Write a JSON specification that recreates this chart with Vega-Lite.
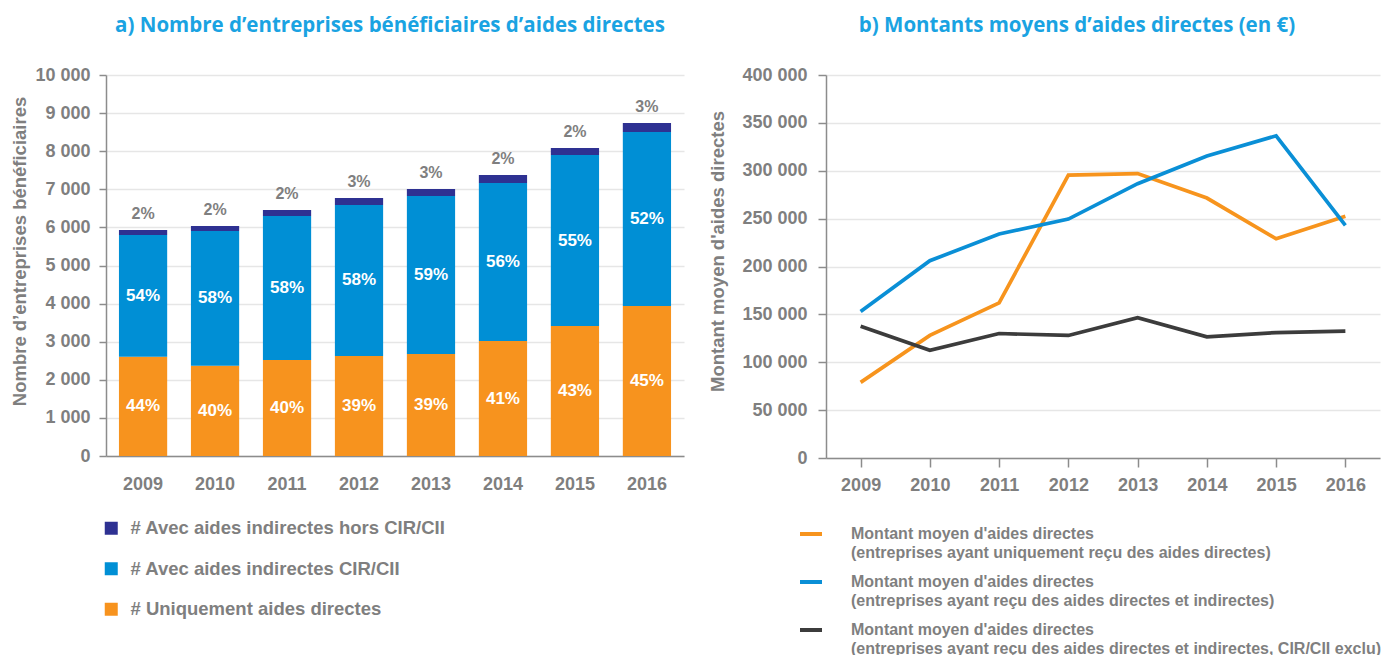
{
  "$schema": "https://vega.github.io/schema/vega-lite/v6.json",
  "padding": {"left": 10, "top": 15, "right": 0, "bottom": 0},
  "background": "white",
  "config": {
    "locale": {"number": {"decimal": ",", "thousands": " ", "grouping": [3], "currency": ["", " €"]}},
    "view": {"stroke": null},
    "font": "Liberation Sans",
    "style": {"guide-label": {"lineHeight": 19}},
    "axis": {
      "labelFont": "Liberation Sans", "labelFontSize": 18, "labelFontWeight": "bold", "labelColor": "#7f7f7f", "labelOverlap": false,
      "titleFont": "Liberation Sans", "titleFontSize": 18.5, "titleFontWeight": "bold", "titleColor": "#7f7f7f",
      "domainColor": "#8c8c8c", "domainWidth": 1.5, "tickColor": "#8c8c8c", "tickWidth": 1.5,
      "gridColor": "#e6e6e6", "gridWidth": 1.5
    },
    "legend": {"labelFont": "Liberation Sans", "labelFontWeight": "bold", "labelColor": "#7f7f7f"},
    "title": {"font": "Open Sans", "fontSize": 20.5, "fontWeight": "bold", "color": "#1aa3e2", "anchor": "middle", "frame": "group", "offset": 30}
  },
  "datasets": {
    "entreprises": [
      {"annee": "2009", "aides_indirectes": "Aucune", "serie": "# Uniquement aides directes", "entreprises": 2606, "part": "44%"},
      {"annee": "2009", "aides_indirectes": "CIR/CII", "serie": "# Avec aides indirectes CIR/CII", "entreprises": 3194, "part": "54%"},
      {"annee": "2009", "aides_indirectes": "Hors CIR/CII", "serie": "# Avec aides indirectes hors CIR/CII", "entreprises": 132, "part": "2%"},
      {"annee": "2010", "aides_indirectes": "Aucune", "serie": "# Uniquement aides directes", "entreprises": 2370, "part": "40%"},
      {"annee": "2010", "aides_indirectes": "CIR/CII", "serie": "# Avec aides indirectes CIR/CII", "entreprises": 3536, "part": "58%"},
      {"annee": "2010", "aides_indirectes": "Hors CIR/CII", "serie": "# Avec aides indirectes hors CIR/CII", "entreprises": 131, "part": "2%"},
      {"annee": "2011", "aides_indirectes": "Aucune", "serie": "# Uniquement aides directes", "entreprises": 2520, "part": "40%"},
      {"annee": "2011", "aides_indirectes": "CIR/CII", "serie": "# Avec aides indirectes CIR/CII", "entreprises": 3779, "part": "58%"},
      {"annee": "2011", "aides_indirectes": "Hors CIR/CII", "serie": "# Avec aides indirectes hors CIR/CII", "entreprises": 158, "part": "2%"},
      {"annee": "2012", "aides_indirectes": "Aucune", "serie": "# Uniquement aides directes", "entreprises": 2625, "part": "39%"},
      {"annee": "2012", "aides_indirectes": "CIR/CII", "serie": "# Avec aides indirectes CIR/CII", "entreprises": 3963, "part": "58%"},
      {"annee": "2012", "aides_indirectes": "Hors CIR/CII", "serie": "# Avec aides indirectes hors CIR/CII", "entreprises": 184, "part": "3%"},
      {"annee": "2013", "aides_indirectes": "Aucune", "serie": "# Uniquement aides directes", "entreprises": 2677, "part": "39%"},
      {"annee": "2013", "aides_indirectes": "CIR/CII", "serie": "# Avec aides indirectes CIR/CII", "entreprises": 4147, "part": "59%"},
      {"annee": "2013", "aides_indirectes": "Hors CIR/CII", "serie": "# Avec aides indirectes hors CIR/CII", "entreprises": 184, "part": "3%"},
      {"annee": "2014", "aides_indirectes": "Aucune", "serie": "# Uniquement aides directes", "entreprises": 3018, "part": "41%"},
      {"annee": "2014", "aides_indirectes": "CIR/CII", "serie": "# Avec aides indirectes CIR/CII", "entreprises": 4147, "part": "56%"},
      {"annee": "2014", "aides_indirectes": "Hors CIR/CII", "serie": "# Avec aides indirectes hors CIR/CII", "entreprises": 210, "part": "2%"},
      {"annee": "2015", "aides_indirectes": "Aucune", "serie": "# Uniquement aides directes", "entreprises": 3412, "part": "43%"},
      {"annee": "2015", "aides_indirectes": "CIR/CII", "serie": "# Avec aides indirectes CIR/CII", "entreprises": 4488, "part": "55%"},
      {"annee": "2015", "aides_indirectes": "Hors CIR/CII", "serie": "# Avec aides indirectes hors CIR/CII", "entreprises": 184, "part": "2%"},
      {"annee": "2016", "aides_indirectes": "Aucune", "serie": "# Uniquement aides directes", "entreprises": 3937, "part": "45%"},
      {"annee": "2016", "aides_indirectes": "CIR/CII", "serie": "# Avec aides indirectes CIR/CII", "entreprises": 4567, "part": "52%"},
      {"annee": "2016", "aides_indirectes": "Hors CIR/CII", "serie": "# Avec aides indirectes hors CIR/CII", "entreprises": 236, "part": "3%"}
    ],
    "montants": [
      {"annee": "2009", "serie": "Montant moyen d'aides directes\n(entreprises ayant uniquement reçu des aides directes)", "montant": 79000},
      {"annee": "2010", "serie": "Montant moyen d'aides directes\n(entreprises ayant uniquement reçu des aides directes)", "montant": 128000},
      {"annee": "2011", "serie": "Montant moyen d'aides directes\n(entreprises ayant uniquement reçu des aides directes)", "montant": 162000},
      {"annee": "2012", "serie": "Montant moyen d'aides directes\n(entreprises ayant uniquement reçu des aides directes)", "montant": 295500},
      {"annee": "2013", "serie": "Montant moyen d'aides directes\n(entreprises ayant uniquement reçu des aides directes)", "montant": 297000},
      {"annee": "2014", "serie": "Montant moyen d'aides directes\n(entreprises ayant uniquement reçu des aides directes)", "montant": 271500},
      {"annee": "2015", "serie": "Montant moyen d'aides directes\n(entreprises ayant uniquement reçu des aides directes)", "montant": 229000},
      {"annee": "2016", "serie": "Montant moyen d'aides directes\n(entreprises ayant uniquement reçu des aides directes)", "montant": 252500},
      {"annee": "2009", "serie": "Montant moyen d'aides directes\n(entreprises ayant reçu des aides directes et indirectes)", "montant": 153000},
      {"annee": "2010", "serie": "Montant moyen d'aides directes\n(entreprises ayant reçu des aides directes et indirectes)", "montant": 206000},
      {"annee": "2011", "serie": "Montant moyen d'aides directes\n(entreprises ayant reçu des aides directes et indirectes)", "montant": 234000},
      {"annee": "2012", "serie": "Montant moyen d'aides directes\n(entreprises ayant reçu des aides directes et indirectes)", "montant": 249500},
      {"annee": "2013", "serie": "Montant moyen d'aides directes\n(entreprises ayant reçu des aides directes et indirectes)", "montant": 286500},
      {"annee": "2014", "serie": "Montant moyen d'aides directes\n(entreprises ayant reçu des aides directes et indirectes)", "montant": 315500},
      {"annee": "2015", "serie": "Montant moyen d'aides directes\n(entreprises ayant reçu des aides directes et indirectes)", "montant": 336500},
      {"annee": "2016", "serie": "Montant moyen d'aides directes\n(entreprises ayant reçu des aides directes et indirectes)", "montant": 243000},
      {"annee": "2009", "serie": "Montant moyen d'aides directes\n(entreprises ayant reçu des aides directes et indirectes, CIR/CII exclu)", "montant": 137500},
      {"annee": "2010", "serie": "Montant moyen d'aides directes\n(entreprises ayant reçu des aides directes et indirectes, CIR/CII exclu)", "montant": 112500},
      {"annee": "2011", "serie": "Montant moyen d'aides directes\n(entreprises ayant reçu des aides directes et indirectes, CIR/CII exclu)", "montant": 130000},
      {"annee": "2012", "serie": "Montant moyen d'aides directes\n(entreprises ayant reçu des aides directes et indirectes, CIR/CII exclu)", "montant": 128000},
      {"annee": "2013", "serie": "Montant moyen d'aides directes\n(entreprises ayant reçu des aides directes et indirectes, CIR/CII exclu)", "montant": 146500},
      {"annee": "2014", "serie": "Montant moyen d'aides directes\n(entreprises ayant reçu des aides directes et indirectes, CIR/CII exclu)", "montant": 126500},
      {"annee": "2015", "serie": "Montant moyen d'aides directes\n(entreprises ayant reçu des aides directes et indirectes, CIR/CII exclu)", "montant": 131000},
      {"annee": "2016", "serie": "Montant moyen d'aides directes\n(entreprises ayant reçu des aides directes et indirectes, CIR/CII exclu)", "montant": 132500}
    ]
  },
  "spacing": 24,
  "resolve": {"scale": {"color": "independent", "x": "independent", "y": "independent"}, "legend": {"color": "independent"}},
  "hconcat": [
    {
      "width": 578,
      "height": 381,
      "title": {"text": "a) Nombre d’entreprises bénéficiaires d’aides directes", "dx": -5},
      "data": {"name": "entreprises"},
      "encoding": {
        "x": {"field": "annee", "type": "ordinal", "scale": {"paddingInner": 0.33, "paddingOuter": 0.18},
              "axis": {"title": null, "labelAngle": 0, "ticks": false, "tickSize": 0, "labelPadding": 19}},
        "y": {"field": "entreprises", "type": "quantitative", "stack": "zero",
              "scale": {"domain": [0, 10000], "nice": false},
              "axis": {"title": "Nombre d’entreprises bénéficiaires", "values": [0, 1000, 2000, 3000, 4000, 5000, 6000, 7000, 8000, 9000, 10000],
                       "format": ",d", "tickSize": 7, "labelPadding": 9, "titlePadding": 5, "titleY": 176, "grid": true, "labelOverlap": false}},
        "order": {"field": "aides_indirectes", "sort": "ascending"},
        "detail": {"field": "serie"}
      },
      "layer": [
        {
          "mark": {"type": "bar"},
          "encoding": {
            "color": {"field": "serie", "type": "nominal",
              "scale": {"domain": ["# Avec aides indirectes hors CIR/CII", "# Avec aides indirectes CIR/CII", "# Uniquement aides directes"],
                        "range": ["#2e3192", "#008fd5", "#f7931e"]},
              "legend": {"title": null, "orient": "none", "legendX": -4, "legendY": 444, "direction": "vertical",
                         "symbolType": "square", "symbolSize": 169, "symbolStrokeWidth": 0, "symbolOpacity": 1,
                         "labelFontSize": 18.5, "labelOffset": 10, "rowPadding": 21.5, "labelLimit": 0}}
          }
        },
        {
          "mark": {"type": "text", "color": "white", "fontSize": 17, "fontWeight": "bold", "font": "Liberation Sans", "baseline": "middle"},
          "encoding": {
            "y": {"field": "entreprises", "type": "quantitative", "stack": "zero", "bandPosition": 0.5,
                  "scale": {"domain": [0, 10000], "nice": false},
                  "axis": {"title": "Nombre d’entreprises bénéficiaires", "values": [0, 1000, 2000, 3000, 4000, 5000, 6000, 7000, 8000, 9000, 10000],
                           "format": ",d", "tickSize": 7, "labelPadding": 9, "titlePadding": 5, "titleY": 176, "grid": true, "labelOverlap": false}},
            "text": {"condition": {"test": "datum.aides_indirectes === 'Hors CIR/CII'", "value": ""}, "field": "part"}
          }
        },
        {
          "mark": {"type": "text", "color": "#7f7f7f", "fontSize": 16, "fontWeight": "bold", "font": "Liberation Sans", "baseline": "bottom", "dy": -8},
          "encoding": {
            "text": {"condition": {"test": "datum.aides_indirectes === 'Hors CIR/CII'", "field": "part"}, "value": ""}
          }
        }
      ]
    },
    {
      "width": 554,
      "height": 383,
      "title": {"text": "b) Montants moyens d’aides directes (en €)", "dx": -26},
      "data": {"name": "montants"},
      "mark": {"type": "line", "strokeWidth": 3.7},
      "encoding": {
        "x": {"field": "annee", "type": "ordinal", "scale": {"type": "point", "padding": 0.5},
              "axis": {"title": null, "labelAngle": 0, "tickSize": 9, "labelPadding": 9, "grid": false}},
        "y": {"field": "montant", "type": "quantitative", "scale": {"domain": [0, 400000], "nice": false},
              "axis": {"title": "Montant moyen d'aides directes", "values": [0, 50000, 100000, 150000, 200000, 250000, 300000, 350000, 400000],
                       "format": ",d", "tickSize": 8, "labelPadding": 11, "titlePadding": 14, "titleY": 176, "grid": true}},
        "color": {"field": "serie", "type": "nominal",
          "scale": {"domain": [
              "Montant moyen d'aides directes\n(entreprises ayant uniquement reçu des aides directes)",
              "Montant moyen d'aides directes\n(entreprises ayant reçu des aides directes et indirectes)",
              "Montant moyen d'aides directes\n(entreprises ayant reçu des aides directes et indirectes, CIR/CII exclu)"],
            "range": ["#f7941d", "#0a8fd6", "#3c3c3c"]},
          "legend": {"title": null, "orient": "none", "legendX": -28, "legendY": 446, "direction": "vertical",
                     "symbolType": "stroke", "symbolSize": 484, "symbolStrokeWidth": 4,
                     "labelFontSize": 16, "labelOffset": 27, "rowPadding": 8, "labelLimit": 0,
                     "labelBaseline": "middle", "labelExpr": "split(datum.label, '\\n')"}}
      }
    }
  ]
}
